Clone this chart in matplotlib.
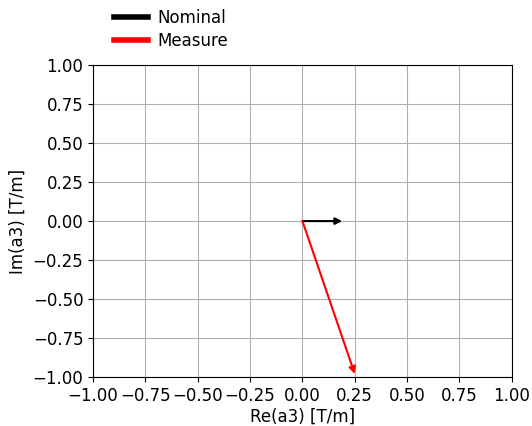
import matplotlib
matplotlib.use("Agg")
import matplotlib.pyplot as plt
from matplotlib.lines import Line2D

plt.rcParams['font.size'] = 12
plt.rcParams['axes.unicode_minus'] = True

# vector components (Re, Im) in T/m
nominal = [0.19, 0.0]
measure = [0.25, -0.98]
labels = ["Nominal", "Measure"]
colors = ["black", "red"]
ticks = [-1, -0.75, -0.5, -0.25, 0, 0.25, 0.5, 0.75, 1]

fig = plt.figure(figsize=(5.32, 4.26), dpi=100)
ax = fig.add_axes([0.175, 0.115, 0.787, 0.732])

for vec, c in zip([nominal, measure], colors):
    ax.annotate("", xy=(vec[0], vec[1]), xytext=(0, 0),
                arrowprops=dict(arrowstyle="-|>", color=c, lw=1.5,
                                mutation_scale=10, shrinkA=0, shrinkB=0))

ax.set_xlim(-1, 1)
ax.set_ylim(-1, 1)
ax.set_xticks(ticks)
ax.set_yticks(ticks)
ax.grid(True, color="#b0b0b0")
ax.set_axisbelow(True)
ax.set_xlabel("Re(a3) [T/m]", labelpad=2)
ax.set_ylabel("Im(a3) [T/m]")

handles = [Line2D([], [], color=c, lw=4) for c in colors]
ax.legend(handles, labels, loc="lower left", bbox_to_anchor=(0.015, 1.0),
          frameon=False, fontsize=12, labelspacing=0.3, handletextpad=0.6)

fig.savefig("out.png", dpi=100)
